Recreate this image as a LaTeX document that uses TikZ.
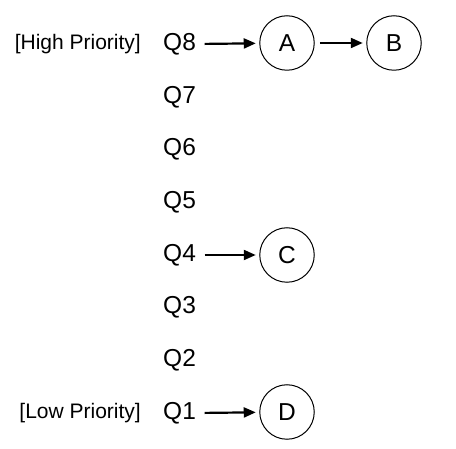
\documentclass[tikz,border=0pt]{standalone}
\usepackage{fontspec}
\setmainfont{Liberation Sans}
\usetikzlibrary{arrows.meta}
\begin{document}
\begin{tikzpicture}[x=1pt,y=-1pt,
  qlabel/.style={font=\fontsize{24.5}{28}\selectfont, inner sep=0pt, anchor=west},
  plabel/.style={font=\fontsize{21}{24}\selectfont, inner sep=0pt, anchor=east},
  state/.style={circle, draw, line width=1pt, minimum size=54.5pt, inner sep=0pt, font=\fontsize{24.5}{28}\selectfont},
  link/.style={-{Triangle[length=12pt,width=10pt]}, line width=2.2pt, shorten >=3.5pt}
]
\useasboundingbox (0,0) rectangle (456,449);
\node[qlabel] (q8) at (163,44) {Q8};
\node[qlabel] (q7) at (163,97) {Q7};
\node[qlabel] (q6) at (163,149) {Q6};
\node[qlabel] (q5) at (163,202) {Q5};
\node[qlabel] (q4) at (163,255) {Q4};
\node[qlabel] (q3) at (163,307) {Q3};
\node[qlabel] (q2) at (163,360) {Q2};
\node[qlabel] (q1) at (163,413) {Q1};
\node[plabel] (hp) at (141,44) {[High Priority]};
\node[plabel] (lp) at (141,413) {[Low Priority]};
\node[state] (A) at (287,43) {A};
\node[state] (B) at (394,43) {B};
\node[state] (C) at (287,255) {C};
\node[state] (D) at (287,412) {D};
\draw[link, shorten <=8.5pt] (q8.east) -- (A);
\draw[link, shorten <=5pt] (A) -- (B);
\draw[link, shorten <=8.5pt] (q4.east) -- (C);
\draw[link, shorten <=8.5pt] (q1.east) -- (D);
\end{tikzpicture}
\end{document}
